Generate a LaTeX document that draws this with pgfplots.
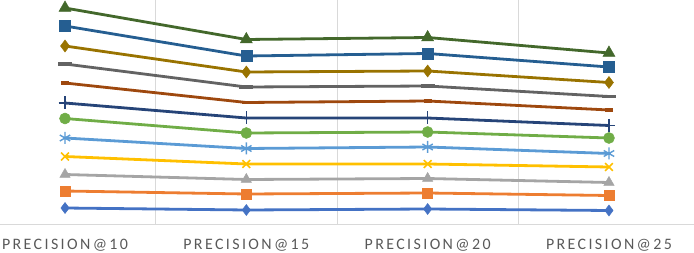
\documentclass[border=0pt]{standalone}
\usepackage{fontspec}
\setmainfont{Carlito}
\newfontfamily\labfont[LetterSpace=15]{Carlito}
\usepackage{pgfplots}
\pgfplotsset{compat=1.18}
\definecolor{c1}{HTML}{4472C4}
\definecolor{c2}{HTML}{ED7D31}
\definecolor{c3}{HTML}{A5A5A5}
\definecolor{c4}{HTML}{FFC000}
\definecolor{c5}{HTML}{5B9BD5}
\definecolor{c6}{HTML}{70AD47}
\definecolor{c7}{HTML}{264478}
\definecolor{c8}{HTML}{9E480E}
\definecolor{c9}{HTML}{636363}
\definecolor{c10}{HTML}{997300}
\definecolor{c11}{HTML}{255E91}
\definecolor{c12}{HTML}{43682B}
\definecolor{gridc}{HTML}{D9D9D9}
\definecolor{labc}{HTML}{595959}
\begin{document}
\begin{tikzpicture}
\begin{axis}[
  scale only axis,
  width=694bp, height=224bp,
  xmin=-0.3585, xmax=3.469,
  ymin=0, ymax=224,
  clip=false,
  axis y line=none,
  axis x line*=bottom,
  x axis line style={gridc, line width=0.8bp, -},
  xtick={0,1,2,3},
  xticklabels={PRECISION@10,PRECISION@15,PRECISION@20,PRECISION@25},
  xtick style={draw=none},
  xticklabel style={anchor=base, yshift=-25.8bp, font=\labfont\fontsize{16}{16}\selectfont, text=labc, inner sep=0pt},
  extra x ticks={0.5,1.5,2.5},
  extra x tick labels={},
  extra x tick style={grid=major, major grid style={gridc, line width=0.8bp}, tick style={draw=none}},
  every axis plot/.append style={line width=2.8bp},
]
% series (value = 224 - pixel row)
\addplot[c1, mark=diamond*, mark size=5.5bp, mark options={solid, fill=c1, line width=0.5bp}] coordinates {(0,16) (1,14) (2,15) (3,13.5)};
\addplot[c2, mark=square*, mark size=5bp, mark options={solid, fill=c2, line width=0.5bp}] coordinates {(0,33) (1,30) (2,31) (3,28.5)};
\addplot[c3, mark=triangle*, mark size=6bp, mark options={solid, fill=c3, line width=0.5bp}] coordinates {(0,49.5) (1,44.5) (2,45.5) (3,41.5)};
\addplot[c4, mark=x, mark size=5.5bp, mark options={solid, line width=1.6bp}] coordinates {(0,67.5) (1,60) (2,60) (3,57)};
\addplot[c5, mark=asterisk, mark size=6bp, mark options={solid, line width=1.4bp}] coordinates {(0,86) (1,75.5) (2,77) (3,70.5)};
\addplot[c6, mark=*, mark size=5.5bp, mark options={solid, fill=c6, line width=0.5bp}] coordinates {(0,105.5) (1,91) (2,92) (3,86)};
\addplot[c7, mark=+, mark size=6.5bp, mark options={solid, line width=1.4bp}] coordinates {(0,121) (1,106) (2,106) (3,98.5)};
\addplot[c8, mark=-, mark size=4bp, mark options={solid, line width=3.5bp}] coordinates {(0,141) (1,121.5) (2,123) (3,114)};
\addplot[c9, mark=-, mark size=7bp, mark options={solid, line width=3.5bp}] coordinates {(0,160) (1,137) (2,138) (3,127.5)};
\addplot[c10, mark=diamond*, mark size=6bp, mark options={solid, fill=c10, line width=0.5bp}] coordinates {(0,178) (1,152) (2,153) (3,141.5)};
\addplot[c11, mark=square*, mark size=5.5bp, mark options={solid, fill=c11, line width=0.5bp}] coordinates {(0,198) (1,168) (2,170.5) (3,157)};
\addplot[c12, mark=triangle*, mark size=7bp, mark options={solid, fill=c12, line width=0.5bp}] coordinates {(0,216) (1,184.5) (2,186.5) (3,171)};
\end{axis}
\pgfresetboundingbox
\path (current axis.south west) ++(0,-29bp) rectangle (current axis.north east);
\end{tikzpicture}
\end{document}
